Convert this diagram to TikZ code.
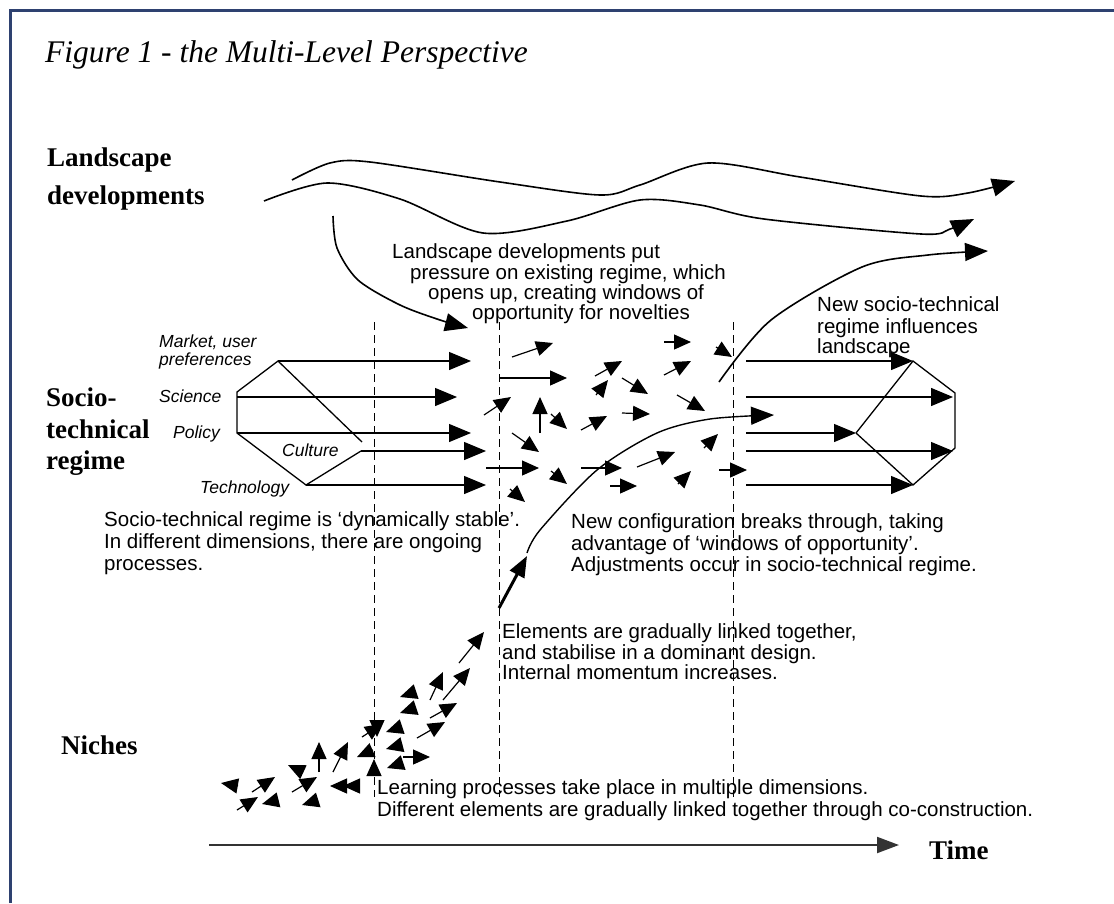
\documentclass[tikz,border=0pt]{standalone}
\usepackage{fontspec}
\setmainfont{Liberation Serif}
\setsansfont{Liberation Sans}
\usetikzlibrary{arrows.meta}
\definecolor{framenavy}{HTML}{2E4170}
\begin{document}
\begin{tikzpicture}[x=1pt,y=-1pt,
  txt/.style={font=\sffamily\fontsize{20.5}{22}\selectfont, anchor=base west, inner sep=0pt},
  dimlabel/.style={font=\sffamily\itshape\fontsize{17.5}{18}\selectfont, anchor=base west, inner sep=0pt},
  level/.style={font=\bfseries\fontsize{27}{30}\selectfont, anchor=base west, inner sep=0pt},
  heading/.style={font=\itshape\fontsize{31.5}{34}\selectfont, anchor=base west, inner sep=0pt},
  net/.style={line width=1.3pt},
  flow/.style={line width=1.3pt, -{Triangle[length=22pt,width=18pt]}},
  bit/.style={line width=1.2pt, -{Triangle[length=17pt,width=15pt]}},
  wave/.style={line width=1.6pt, -{Triangle[length=23pt,width=18pt]}},
  era/.style={line width=0.9pt, dash pattern=on 8pt off 5pt}]
\useasboundingbox (0,0) rectangle (1114,903);
\fill[white] (0,0) rectangle (1114,903);
\draw[framenavy, line width=2.5pt] (10.5,903) -- (10.5,10.5) -- (1114,10.5);

% title and level names
\node[heading] (title) at (45,62) {Figure 1 - the Multi-Level Perspective};
\node[level] (lv1a) at (47,166) {Landscape};
\node[level] (lv1b) at (47,204) {developments};
\node[level] (lv2a) at (46,406) {Socio-};
\node[level] (lv2b) at (46,438) {technical};
\node[level] (lv2c) at (46,469) {regime};
\node[level] (lv3) at (61,754) {Niches};
\node[level] (time) at (929,859) {Time};

% time axis
\coordinate (tStart) at (209,845);
\coordinate (tEnd) at (899,845);
\draw[line width=2pt, color=black!80, -{Triangle[length=22pt,width=16pt]}] (tStart) -- (tEnd);

% period boundaries
\draw[era] (374,322) -- (374,797);
\draw[era] (499,322) -- (499,797);
\draw[era] (733,322) -- (733,797);

% landscape developments
\draw[wave] plot[smooth] coordinates {(292,180) (330,163) (370,162) (500,182) (600,195) (640,185) (708,163) (800,177) (921,196) (968,193) (1015,181)};
\draw[wave] plot[smooth] coordinates {(264,201) (327,183) (400,199) (483,233) (567,221) (640,200) (700,205) (764,219) (921,234) (950,229) (974,219)};
\draw[wave] plot[smooth] coordinates {(333,216) (337,248) (358,280) (400,305) (440,320) (468,328)};
\draw[wave] plot[smooth] coordinates {(719,382) (771,320) (862,267) (928,255) (988,251)};

% stable regime on the left
\coordinate (mA) at (278,361);
\coordinate (sA) at (237,392);
\coordinate (sB) at (237,397);
\coordinate (pA) at (237,433);
\coordinate (tA) at (306,485);
\coordinate (cA) at (361,451);
\coordinate (dA) at (362,442);
\draw[net] (dA) -- (mA) -- (sA) -- (pA) -- (tA) -- (cA);
\coordinate (mE) at (471,361);
\coordinate (sE) at (457,397);
\coordinate (pE) at (471,433);
\coordinate (cE) at (486,451);
\coordinate (tE) at (486,485);
\draw[flow] (mA) -- (mE);
\draw[flow] (sB) -- (sE);
\draw[flow] (pA) -- (pE);
\draw[flow] (cA) -- (cE);
\draw[flow] (tA) -- (tE);

\node[dimlabel] (dm1) at (159,347) {Market, user};
\node[dimlabel] (dm2) at (159,365) {preferences};
\node[dimlabel] (dsc) at (159,402) {Science};
\node[dimlabel] (dpo) at (173,438) {Policy};
\node[dimlabel] (dcu) at (282,456) {Culture};
\node[dimlabel] (dte) at (200,493) {Technology};

% new regime on the right
\coordinate (mR) at (913,361);
\coordinate (sR) at (955,393);
\coordinate (cR) at (955,448);
\coordinate (tR) at (913,485);
\coordinate (pR) at (856,433);
\draw[net] (pR) -- (mR) -- (sR) -- (cR) -- (tR) -- (pR);
\coordinate (mS) at (746,361);
\coordinate (sS) at (746,397);
\coordinate (pS) at (746,433);
\coordinate (cS) at (746,451);
\coordinate (tS) at (746,485);
\coordinate (sT) at (953,397);
\coordinate (cT) at (953,451);
\draw[flow] (mS) -- (mR);
\draw[flow] (sS) -- (sT);
\draw[flow] (pS) -- (pR);
\draw[flow] (cS) -- (cT);
\draw[flow] (tS) -- (tR);

% unsettled regime in between
\foreach \ax/\ay/\bx/\by in {512/357/553/343, 499/378/567/378, 595/376/622/361,
  596/395/608/380, 622/378/648/394, 664/342/691/342, 716/347/732/357,
  664/375/691/361, 677/395/705/411, 484/415/511/397, 540/433/540/397,
  551/414/567/429, 581/430/607/416, 622/413/650/414, 512/433/539/452,
  486/468/539/468, 551/471/567/484, 581/468/622/468, 610/486/637/486,
  637/467/675/452, 678/484/691/471, 704/448/718/434, 719/470/747/470,
  510/489/525/502}
  \draw[bit] (\ax,\ay) -- (\bx,\by);

% breakthrough of the novelty
\draw[wave, line width=1.4pt] plot[smooth] coordinates {(527,553) (540,530) (597,470) (657,433) (710,419) (774,415)};
\draw[line width=3pt, -{Triangle[length=21pt,width=16pt]}] (499,608) -- (527,556);

% niche experiments
\foreach \ax/\ay/\bx/\by in {238/786/221/783, 252/792/275/777, 237/810/258/797,
  278/800/262/804, 292/792/317/777, 318/800/302/805, 303/772/288/765,
  319/772/319/742, 333/772/348/742, 345/786/330/786, 358/786/343/786,
  373/750/357/757, 362/737/382/724, 377/722/377/737, 374/773/374/759,
  401/727/386/732, 401/745/386/749, 402/763/387/768, 403/757/430/757,
  415/692/400/697, 415/708/400/713, 417/738/445/722, 430/700/443/672,
  443/700/470/668, 430/718/457/703, 459/663/484/632}
  \draw[bit] (\ax,\ay) -- (\bx,\by);

% explanatory texts
\node[txt] (lp1) at (392,258) {Landscape developments put};
\node[txt] (lp2) at (410,279) {pressure on existing regime, which};
\node[txt] (lp3) at (428,299) {opens up, creating windows of};
\node[txt] (lp4) at (472,319) {opportunity for novelties};

\node[txt] (ns1) at (817,311) {New socio-technical};
\node[txt] (ns2) at (817,333) {regime influences};
\node[txt] (ns3) at (817,353) {landscape};

\node[txt] (st1) at (104,526) {Socio-technical regime is ‘dynamically stable’.};
\node[txt] (st2) at (104,548) {In different dimensions, there are ongoing};
\node[txt] (st3) at (104,570) {processes.};

\node[txt] (nc1) at (571,528) {New configuration breaks through, taking};
\node[txt] (nc2) at (571,550) {advantage of ‘windows of opportunity’.};
\node[txt] (nc3) at (571,571) {Adjustments occur in socio-technical regime.};

\node[txt] (el1) at (502,638) {Elements are gradually linked together,};
\node[txt] (el2) at (502,659) {and stabilise in a dominant design.};
\node[txt] (el3) at (502,679) {Internal momentum increases.};

\node[txt] (lr1) at (377,794) {Learning processes take place in multiple dimensions.};
\node[txt] (lr2) at (377,816) {Different elements are gradually linked together through co-construction.};
\end{tikzpicture}
\end{document}
